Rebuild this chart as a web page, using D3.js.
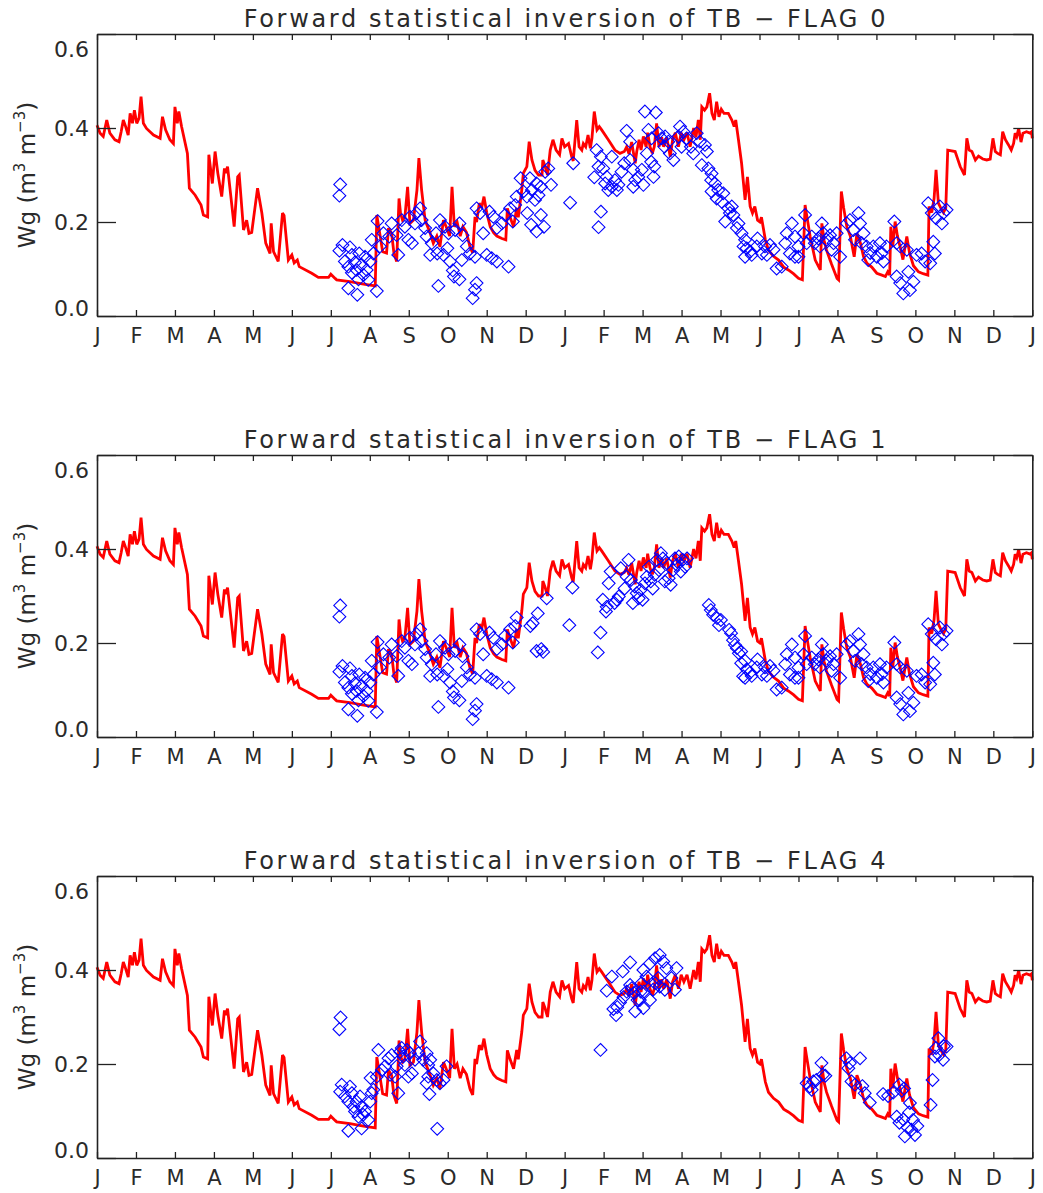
<!DOCTYPE html>
<html><head><meta charset="utf-8">
<script src="https://cdn.jsdelivr.net/npm/d3@7"></script>
<style>body{margin:0;background:#fff}svg{display:block}</style>
</head><body>
<svg id="c" width="1043" height="1193"></svg>
<script>
const monthLabels = ["J","F","M","A","M","J","J","A","S","O","N","D","J","F","M","A","M","J","J","A","S","O","N","D","J"];
const yTickValues = [0.0, 0.2, 0.4, 0.6];
const yTickLabels = ["0.0", "0.2", "0.4", "0.6"];
const panelTitles = ["Forward statistical inversion of TB \u2212 FLAG 0", "Forward statistical inversion of TB \u2212 FLAG 1", "Forward statistical inversion of TB \u2212 FLAG 4"];

// model soil moisture (month index from first January, Wg)
const modelWg = [[0,0.406],[0.08,0.389],[0.16,0.382],[0.25,0.417],[0.33,0.389],[0.46,0.375],[0.565,0.371],[0.62,0.392],[0.675,0.417],[0.735,0.403],[0.80,0.385],[0.85,0.431],[0.91,0.410],[0.96,0.438],[1.02,0.410],[1.08,0.421],[1.13,0.467],[1.19,0.410],[1.27,0.399],[1.45,0.385],[1.62,0.378],[1.68,0.424],[1.76,0.396],[1.87,0.375],[1.96,0.367],[2.0,0.445],[2.06,0.410],[2.10,0.435],[2.17,0.403],[2.32,0.346],[2.37,0.272],[2.52,0.257],[2.67,0.236],[2.73,0.215],[2.84,0.211],[2.87,0.343],[2.96,0.282],[3.03,0.350],[3.10,0.304],[3.20,0.254],[3.27,0.314],[3.30,0.304],[3.35,0.318],[3.52,0.190],[3.61,0.296],[3.65,0.300],[3.76,0.183],[3.84,0.204],[3.90,0.176],[3.97,0.178],[4.12,0.272],[4.23,0.219],[4.33,0.155],[4.44,0.133],[4.47,0.197],[4.53,0.137],[4.65,0.116],[4.76,0.219],[4.80,0.214],[4.91,0.119],[5.0,0.130],[5.06,0.113],[5.14,0.119],[5.19,0.105],[5.51,0.091],[5.68,0.082],[5.94,0.082],[6.0,0.089],[6.11,0.080],[6.15,0.077],[6.49,0.073],[6.84,0.068],[7.14,0.064],[7.18,0.215],[7.25,0.178],[7.33,0.137],[7.43,0.134],[7.48,0.187],[7.56,0.176],[7.62,0.133],[7.69,0.116],[7.75,0.250],[7.79,0.218],[7.84,0.204],[7.9,0.21],[7.97,0.275],[8.03,0.197],[8.12,0.204],[8.21,0.268],[8.26,0.336],[8.33,0.268],[8.42,0.204],[8.55,0.176],[8.63,0.155],[8.72,0.17],[8.80,0.147],[8.89,0.204],[8.96,0.19],[9.05,0.17],[9.11,0.275],[9.17,0.19],[9.24,0.2],[9.32,0.17],[9.39,0.19],[9.48,0.178],[9.57,0.147],[9.64,0.134],[9.70,0.211],[9.74,0.2],[9.81,0.240],[9.87,0.23],[9.93,0.254],[10.0,0.22],[10.09,0.190],[10.18,0.177],[10.26,0.17],[10.39,0.165],[10.49,0.162],[10.53,0.229],[10.6,0.21],[10.69,0.19],[10.77,0.23],[10.81,0.21],[10.90,0.268],[10.94,0.304],[11.03,0.318],[11.09,0.371],[11.16,0.332],[11.24,0.31],[11.33,0.300],[11.42,0.30],[11.44,0.332],[11.5,0.318],[11.56,0.30],[11.63,0.353],[11.70,0.375],[11.78,0.353],[11.87,0.343],[11.93,0.378],[12.0,0.36],[12.10,0.367],[12.18,0.339],[12.22,0.33],[12.31,0.417],[12.37,0.36],[12.44,0.353],[12.48,0.367],[12.54,0.36],[12.6,0.385],[12.66,0.357],[12.70,0.378],[12.76,0.435],[12.83,0.396],[12.89,0.403],[12.95,0.396],[13.12,0.375],[13.29,0.353],[13.42,0.346],[13.53,0.35],[13.59,0.36],[13.65,0.345],[13.72,0.37],[13.81,0.325],[13.85,0.35],[13.91,0.375],[13.96,0.353],[14.02,0.382],[14.09,0.36],[14.13,0.39],[14.19,0.36],[14.25,0.346],[14.30,0.36],[14.36,0.410],[14.42,0.36],[14.49,0.38],[14.54,0.36],[14.62,0.38],[14.71,0.339],[14.77,0.375],[14.84,0.39],[14.92,0.36],[14.99,0.39],[15.06,0.375],[15.14,0.39],[15.22,0.36],[15.31,0.40],[15.37,0.38],[15.43,0.417],[15.48,0.375],[15.52,0.445],[15.59,0.438],[15.65,0.445],[15.72,0.474],[15.78,0.431],[15.84,0.417],[15.90,0.456],[15.96,0.424],[16.02,0.44],[16.09,0.431],[16.2,0.431],[16.29,0.417],[16.35,0.403],[16.39,0.417],[16.46,0.375],[16.54,0.325],[16.63,0.247],[16.69,0.296],[16.76,0.233],[16.82,0.219],[16.88,0.233],[16.95,0.204],[17.01,0.2],[17.05,0.21],[17.15,0.162],[17.23,0.14],[17.36,0.127],[17.49,0.119],[17.62,0.104],[17.74,0.098],[17.87,0.09],[18.0,0.080],[18.1,0.077],[18.17,0.236],[18.2,0.22],[18.30,0.169],[18.43,0.119],[18.56,0.098],[18.60,0.197],[18.66,0.16],[18.72,0.14],[18.85,0.11],[18.99,0.080],[19.03,0.077],[19.10,0.265],[19.16,0.23],[19.24,0.19],[19.33,0.17],[19.43,0.126],[19.50,0.176],[19.59,0.155],[19.67,0.126],[19.76,0.112],[19.88,0.104],[20.01,0.091],[20.14,0.087],[20.23,0.084],[20.29,0.094],[20.34,0.087],[20.37,0.190],[20.42,0.148],[20.48,0.201],[20.54,0.17],[20.61,0.147],[20.68,0.12],[20.78,0.169],[20.85,0.134],[20.95,0.107],[21.08,0.094],[21.20,0.09],[21.32,0.087],[21.35,0.233],[21.42,0.22],[21.48,0.25],[21.53,0.311],[21.59,0.24],[21.65,0.23],[21.72,0.22],[21.78,0.23],[21.83,0.353],[22.02,0.350],[22.15,0.318],[22.26,0.300],[22.32,0.378],[22.38,0.353],[22.45,0.35],[22.54,0.332],[22.62,0.34],[22.73,0.334],[22.83,0.332],[22.92,0.334],[22.99,0.378],[23.05,0.35],[23.11,0.346],[23.18,0.343],[23.24,0.392],[23.31,0.375],[23.39,0.364],[23.46,0.353],[23.52,0.367],[23.56,0.389],[23.60,0.382],[23.65,0.399],[23.71,0.37],[23.76,0.389],[23.85,0.392],[23.94,0.389],[23.98,0.392],[24.0,0.378]];

// retrieved Wg, FLAG 0
const retrievedFlag0 = [[6.24,0.280],[6.22,0.256],[6.30,0.151],[6.22,0.139],[6.49,0.146],[6.36,0.116],[6.54,0.130],[6.45,0.105],[6.62,0.114],[6.73,0.133],[6.66,0.098],[6.79,0.109],[6.54,0.092],[6.84,0.087],[6.71,0.078],[6.96,0.077],[6.45,0.059],[6.68,0.045],[7.18,0.053],[7.01,0.116],[7.09,0.133],[7.05,0.162],[6.92,0.098],[6.88,0.126],[7.20,0.202],[7.26,0.148],[7.35,0.176],[7.56,0.197],[7.50,0.169],[7.73,0.130],[7.69,0.172],[7.82,0.204],[7.90,0.190],[8.03,0.211],[7.99,0.162],[8.08,0.155],[8.16,0.197],[8.20,0.219],[8.29,0.229],[8.33,0.204],[8.42,0.187],[8.46,0.169],[8.55,0.130],[8.59,0.155],[8.70,0.176],[8.80,0.204],[8.73,0.133],[8.93,0.190],[9.02,0.176],[8.89,0.130],[8.99,0.144],[9.13,0.097],[9.16,0.084],[9.30,0.078],[8.76,0.064],[9.06,0.116],[9.19,0.183],[9.30,0.197],[9.38,0.172],[9.36,0.119],[9.49,0.148],[9.57,0.133],[9.74,0.229],[9.83,0.219],[9.91,0.176],[9.70,0.126],[9.74,0.070],[9.70,0.056],[9.64,0.038],[10.0,0.130],[10.13,0.123],[10.26,0.116],[10.56,0.105],[10.07,0.222],[10.17,0.211],[10.26,0.187],[10.39,0.197],[10.47,0.215],[10.67,0.201],[10.60,0.229],[10.73,0.236],[10.77,0.254],[10.87,0.293],[10.94,0.265],[11.03,0.254],[11.11,0.293],[11.16,0.268],[11.24,0.247],[11.33,0.257],[11.28,0.282],[11.39,0.275],[11.04,0.219],[11.14,0.194],[11.28,0.180],[11.39,0.215],[11.47,0.190],[11.50,0.307],[11.58,0.314],[11.65,0.279],[12.22,0.325],[12.14,0.241],[12.82,0.353],[12.93,0.339],[12.87,0.318],[12.76,0.295],[12.99,0.314],[13.08,0.296],[13.04,0.282],[13.12,0.268],[13.21,0.275],[13.29,0.289],[13.38,0.279],[13.34,0.268],[13.21,0.339],[12.93,0.222],[12.87,0.189],[13.59,0.394],[13.68,0.371],[13.46,0.307],[13.53,0.325],[13.68,0.332],[13.76,0.311],[13.81,0.289],[13.76,0.275],[13.89,0.296],[13.98,0.311],[14.02,0.279],[14.06,0.435],[14.34,0.433],[14.15,0.396],[14.23,0.378],[14.11,0.346],[14.22,0.328],[14.30,0.318],[14.28,0.296],[14.41,0.389],[14.49,0.378],[14.58,0.382],[14.66,0.371],[14.56,0.360],[14.70,0.346],[14.79,0.332],[14.96,0.403],[15.05,0.392],[14.92,0.382],[15.00,0.360],[15.13,0.378],[15.24,0.360],[15.30,0.346],[15.39,0.389],[15.47,0.371],[15.60,0.364],[15.65,0.350],[15.52,0.321],[15.69,0.314],[15.76,0.289],[15.77,0.303],[15.86,0.282],[15.94,0.268],[15.77,0.265],[15.90,0.250],[16.03,0.243],[16.07,0.261],[16.20,0.229],[16.29,0.233],[16.24,0.219],[16.33,0.215],[16.12,0.201],[16.46,0.197],[16.42,0.187],[16.54,0.176],[16.63,0.162],[16.59,0.148],[16.67,0.144],[16.76,0.137],[16.63,0.126],[16.80,0.130],[16.93,0.148],[16.95,0.165],[17.06,0.133],[17.14,0.148],[17.19,0.130],[17.27,0.151],[17.36,0.141],[17.44,0.101],[17.57,0.105],[17.66,0.155],[17.70,0.176],[17.83,0.197],[17.91,0.169],[18.00,0.148],[17.78,0.133],[17.91,0.126],[18.00,0.126],[18.17,0.215],[18.13,0.176],[18.21,0.155],[18.34,0.169],[18.42,0.155],[18.51,0.165],[18.60,0.197],[18.64,0.176],[18.55,0.148],[18.72,0.162],[18.81,0.172],[18.90,0.155],[18.98,0.176],[19.07,0.126],[18.85,0.141],[19.24,0.197],[19.32,0.204],[19.54,0.219],[19.58,0.197],[19.41,0.183],[19.45,0.162],[19.62,0.155],[19.67,0.176],[19.75,0.148],[19.84,0.134],[19.79,0.119],[19.92,0.148],[20.01,0.126],[20.09,0.155],[20.14,0.134],[20.26,0.148],[20.18,0.116],[20.46,0.201],[20.52,0.155],[20.61,0.148],[20.78,0.141],[20.52,0.084],[20.61,0.070],[20.69,0.048],[20.86,0.055],[20.95,0.073],[20.82,0.094],[21.03,0.130],[21.16,0.133],[21.25,0.116],[21.38,0.112],[21.46,0.158],[21.50,0.133],[21.33,0.240],[21.42,0.219],[21.53,0.208],[21.63,0.233],[21.72,0.219],[21.80,0.226],[21.68,0.197]];

// retrieved Wg, FLAG 1
const retrievedFlag1 = [[6.24,0.280],[6.22,0.256],[6.30,0.151],[6.22,0.139],[6.49,0.146],[6.36,0.116],[6.54,0.130],[6.45,0.105],[6.62,0.114],[6.73,0.133],[6.66,0.098],[6.79,0.109],[6.54,0.092],[6.84,0.087],[6.71,0.078],[6.96,0.077],[6.45,0.059],[6.68,0.045],[7.18,0.053],[7.01,0.116],[7.09,0.133],[7.05,0.162],[6.92,0.098],[6.88,0.126],[7.20,0.202],[7.26,0.148],[7.35,0.176],[7.56,0.197],[7.50,0.169],[7.73,0.130],[7.69,0.172],[7.82,0.204],[7.90,0.190],[8.03,0.211],[7.99,0.162],[8.08,0.155],[8.16,0.197],[8.20,0.219],[8.29,0.229],[8.33,0.204],[8.42,0.187],[8.46,0.169],[8.55,0.130],[8.59,0.155],[8.70,0.176],[8.80,0.204],[8.73,0.133],[8.93,0.190],[9.02,0.176],[8.89,0.130],[8.99,0.144],[9.13,0.097],[9.16,0.084],[9.30,0.078],[8.76,0.064],[9.06,0.116],[9.19,0.183],[9.30,0.197],[9.38,0.172],[9.36,0.119],[9.49,0.148],[9.57,0.133],[9.74,0.229],[9.83,0.219],[9.91,0.176],[9.70,0.126],[9.74,0.070],[9.70,0.056],[9.64,0.038],[10.0,0.130],[10.13,0.123],[10.26,0.116],[10.56,0.105],[10.07,0.222],[10.17,0.211],[10.26,0.187],[10.39,0.197],[10.47,0.215],[10.67,0.201],[10.60,0.229],[10.73,0.236],[10.77,0.254],[11.12,0.236],[11.18,0.242],[11.31,0.263],[11.54,0.295],[11.28,0.183],[11.40,0.187],[11.45,0.181],[12.12,0.238],[12.20,0.318],[12.92,0.222],[12.85,0.180],[12.98,0.292],[13.08,0.277],[13.06,0.267],[13.13,0.327],[13.18,0.352],[13.28,0.285],[13.34,0.292],[13.39,0.299],[13.44,0.359],[13.54,0.316],[13.59,0.341],[13.64,0.377],[13.70,0.334],[13.75,0.285],[13.80,0.320],[13.85,0.306],[13.90,0.295],[13.95,0.313],[14.00,0.292],[14.06,0.327],[14.11,0.341],[14.16,0.362],[14.21,0.331],[14.26,0.316],[14.31,0.345],[14.37,0.377],[14.42,0.355],[14.47,0.391],[14.52,0.380],[14.57,0.331],[14.62,0.370],[14.67,0.338],[14.72,0.324],[14.78,0.355],[14.83,0.380],[14.88,0.366],[14.93,0.384],[14.98,0.352],[15.03,0.377],[15.09,0.362],[15.14,0.380],[15.70,0.281],[15.75,0.270],[15.81,0.260],[15.91,0.253],[15.96,0.238],[16.01,0.249],[16.22,0.228],[16.27,0.221],[16.32,0.206],[16.37,0.196],[16.42,0.189],[16.47,0.178],[16.53,0.182],[16.53,0.157],[16.58,0.129],[16.63,0.162],[16.67,0.144],[16.76,0.137],[16.63,0.126],[16.80,0.130],[16.93,0.148],[16.95,0.165],[17.06,0.133],[17.14,0.148],[17.19,0.130],[17.27,0.151],[17.36,0.141],[17.44,0.101],[17.57,0.105],[17.66,0.155],[17.70,0.176],[17.83,0.197],[17.91,0.169],[18.00,0.148],[17.78,0.133],[17.91,0.126],[18.00,0.126],[18.17,0.215],[18.13,0.176],[18.21,0.155],[18.34,0.169],[18.42,0.155],[18.51,0.165],[18.60,0.197],[18.64,0.176],[18.55,0.148],[18.72,0.162],[18.81,0.172],[18.90,0.155],[18.98,0.176],[19.07,0.126],[18.85,0.141],[19.24,0.197],[19.32,0.204],[19.54,0.219],[19.58,0.197],[19.41,0.183],[19.45,0.162],[19.62,0.155],[19.67,0.176],[19.75,0.148],[19.84,0.134],[19.79,0.119],[19.92,0.148],[20.01,0.126],[20.09,0.155],[20.14,0.134],[20.26,0.148],[20.18,0.116],[20.46,0.201],[20.52,0.155],[20.61,0.148],[20.78,0.141],[20.52,0.084],[20.61,0.070],[20.69,0.048],[20.86,0.055],[20.95,0.073],[20.82,0.094],[21.03,0.130],[21.16,0.133],[21.25,0.116],[21.38,0.112],[21.46,0.158],[21.50,0.133],[21.33,0.240],[21.42,0.219],[21.53,0.208],[21.63,0.233],[21.72,0.219],[21.80,0.226],[21.68,0.197]];

// retrieved Wg, FLAG 4
const retrievedFlag4 = [[6.25,0.299],[6.22,0.274],[6.28,0.156],[6.24,0.141],[6.36,0.131],[6.49,0.152],[6.45,0.120],[6.54,0.138],[6.58,0.109],[6.66,0.120],[6.62,0.099],[6.75,0.131],[6.79,0.109],[6.71,0.088],[6.88,0.099],[6.96,0.081],[6.83,0.092],[6.45,0.058],[6.79,0.063],[7.01,0.120],[7.05,0.138],[7.09,0.145],[7.02,0.170],[7.22,0.230],[7.31,0.187],[7.18,0.173],[7.39,0.195],[7.48,0.212],[7.56,0.219],[7.52,0.177],[7.65,0.173],[7.73,0.138],[7.69,0.195],[7.78,0.226],[7.86,0.216],[7.90,0.198],[7.82,0.234],[7.95,0.230],[8.03,0.223],[8.08,0.180],[7.99,0.173],[8.16,0.209],[8.25,0.223],[8.29,0.248],[8.37,0.209],[8.46,0.223],[8.50,0.198],[8.55,0.209],[8.50,0.173],[8.63,0.180],[8.72,0.166],[8.46,0.159],[8.53,0.136],[8.80,0.159],[8.89,0.166],[8.97,0.195],[8.73,0.062],[12.92,0.230],[13.21,0.386],[13.49,0.397],[13.68,0.416],[13.08,0.356],[13.25,0.317],[13.32,0.304],[13.35,0.321],[13.42,0.331],[13.51,0.342],[13.59,0.354],[13.68,0.368],[13.72,0.361],[13.78,0.351],[13.81,0.312],[13.87,0.336],[13.95,0.354],[14.02,0.400],[14.10,0.386],[13.97,0.372],[14.03,0.354],[13.93,0.336],[14.02,0.319],[14.19,0.336],[14.19,0.414],[14.32,0.425],[14.44,0.432],[14.53,0.418],[14.61,0.404],[14.44,0.365],[14.40,0.383],[14.57,0.358],[14.27,0.358],[14.74,0.383],[14.87,0.404],[14.83,0.358],[14.32,0.372],[18.21,0.159],[18.29,0.152],[18.38,0.163],[18.34,0.145],[18.46,0.166],[18.59,0.202],[18.63,0.177],[18.69,0.175],[19.23,0.212],[19.32,0.202],[19.58,0.212],[19.28,0.191],[19.36,0.163],[19.45,0.156],[19.64,0.153],[19.70,0.138],[19.83,0.118],[20.17,0.136],[20.30,0.132],[20.43,0.139],[20.59,0.156],[20.71,0.148],[20.65,0.143],[20.52,0.088],[20.59,0.075],[20.69,0.082],[20.86,0.117],[20.84,0.097],[20.80,0.065],[20.90,0.060],[21.05,0.068],[20.99,0.049],[20.73,0.046],[20.94,0.081],[21.44,0.166],[21.39,0.113],[21.59,0.255],[21.73,0.238],[21.80,0.237],[21.53,0.234],[21.61,0.219],[21.71,0.209],[21.50,0.216]];

const panelPoints = [retrievedFlag0, retrievedFlag1, retrievedFlag4];

const svg = d3.select("#c");
const left = 97, right = 1032.3, plotH = 282, panelStep = 421, firstTop = 34;
const FONT = "'DejaVu Sans', 'Liberation Sans', sans-serif";
const x = d3.scaleLinear().domain([0, 24]).range([left, right]);
const axisColor = "#222";
const textColor = "#2a2a2a";

panelTitles.forEach((title, i) => {
  const top = firstTop + i * panelStep;
  const y = d3.scaleLinear().domain([0, 0.6]).range([top + plotH, top]);
  const g = svg.append("g");

  // title
  g.append("text")
    .attr("x", (left + right) / 2).attr("y", top - 7)
    .attr("text-anchor", "middle")
    .attr("font-family", FONT).attr("font-size", 24).attr("fill", textColor)
    .attr("textLength", 642).attr("lengthAdjust", "spacing")
    .text(title);

  // model line
  const line = d3.line().x(d => x(d[0])).y(d => y(d[1]));
  g.append("path").datum(modelWg)
    .attr("d", line).attr("fill", "none")
    .attr("stroke", "#ff0000").attr("stroke-width", 2.8)
    .attr("stroke-linejoin", "miter").attr("stroke-miterlimit", 3);

  // retrieved points (diamonds)
  const r = 6.4;
  g.append("g").selectAll("path").data(panelPoints[i]).join("path")
    .attr("d", `M0,${-r}L${r},0L0,${r}L${-r},0Z`)
    .attr("transform", d => `translate(${x(d[0])},${y(d[1])})`)
    .attr("fill", "none").attr("stroke", "#0000ff").attr("stroke-width", 1.1);

  // axes
  const bottom = g.append("g").attr("transform", `translate(0,${top + plotH})`)
    .call(d3.axisBottom(x).tickValues(d3.range(25)).tickSize(-6).tickSizeOuter(0).tickPadding(12.5)
      .tickFormat((d, k) => monthLabels[k]));
  const topAx = g.append("g").attr("transform", `translate(0,${top})`)
    .call(d3.axisTop(x).tickValues(d3.range(25)).tickSize(-6).tickSizeOuter(0).tickFormat(""));
  const leftAx = g.append("g").attr("transform", `translate(${left},0)`)
    .call(d3.axisLeft(y).tickValues(yTickValues).tickSize(-19).tickSizeOuter(0)
      .tickFormat((d, k) => yTickLabels[k]));
  const rightAx = g.append("g").attr("transform", `translate(${right},0)`)
    .call(d3.axisRight(y).tickValues(yTickValues).tickSize(-19).tickSizeOuter(0).tickFormat(""));

  [bottom, topAx, leftAx, rightAx].forEach(a => {
    a.selectAll("path.domain").attr("stroke", axisColor).attr("stroke-width", 1.6);
    a.selectAll(".tick line").attr("stroke", axisColor).attr("stroke-width", 1.3);
    a.selectAll("text").attr("font-family", FONT).attr("fill", textColor);
  });
  bottom.selectAll("text").attr("font-size", 21);
  // end labels are kept inside the frame, as in the reference
  leftAx.selectAll("text").attr("font-size", 22).attr("text-anchor", "end").attr("x", -8)
    .attr("dy", d => d === 0.6 ? "1.0em" : (d === 0 ? "-0.02em" : "0.36em"));

  // y label
  const yl = g.append("text")
    .attr("transform", `translate(35,${top + plotH / 2}) rotate(-90)`)
    .attr("text-anchor", "middle")
    .attr("font-family", FONT).attr("font-size", 23).attr("fill", textColor);
  yl.append("tspan").text("Wg (m");
  yl.append("tspan").attr("font-size", 15).attr("dy", -10).text("3");
  yl.append("tspan").attr("dy", 10).text(" m");
  yl.append("tspan").attr("font-size", 15).attr("dy", -10).text("\u22123");
  yl.append("tspan").attr("dy", 10).text(")");
});
</script>
</body></html>
